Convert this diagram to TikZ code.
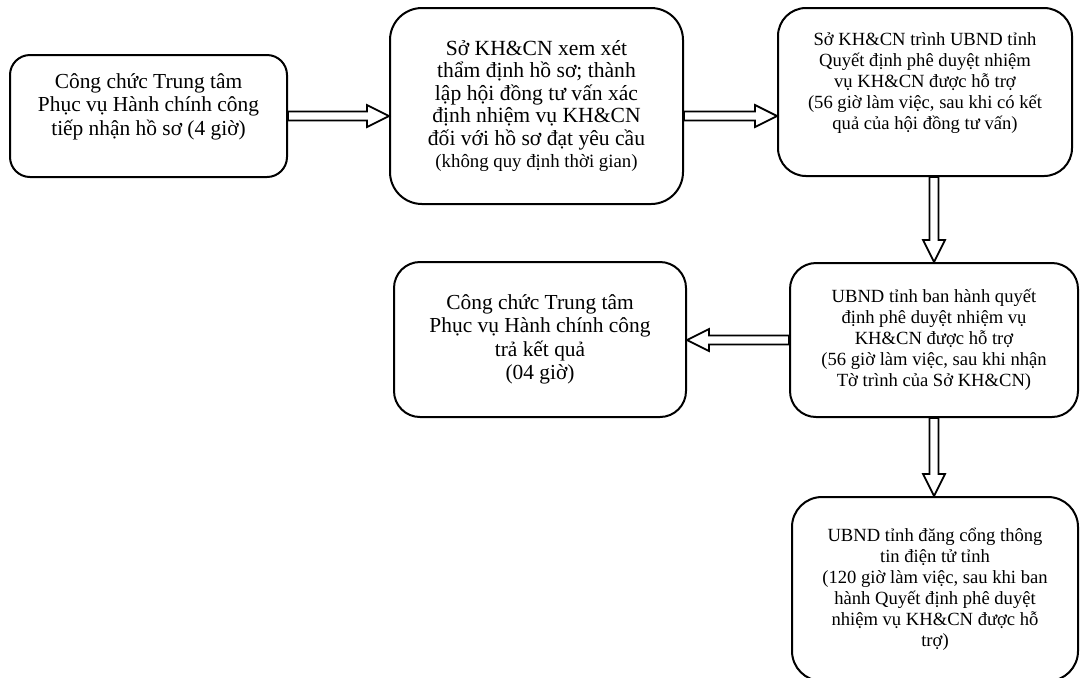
\documentclass[tikz,border=0pt]{standalone}
\usepackage{fontspec}
\setmainfont{Liberation Serif}
\usepackage{tikz}
\usetikzlibrary{calc, positioning}

\begin{document}
\begin{tikzpicture}[
    x=0.5pt, y=0.5pt,
    proc/.style={rectangle, draw, line width=1pt, align=center, inner sep=2pt,
                 font=\fontsize{10.7}{11.7}\selectfont},
    smalltext/.style={font=\fontsize{9.3}{10.5}\selectfont},
    blockarrow/.style={draw, fill=white, line width=0.9pt, line join=miter,
        to path={let \p1=($(\tikztotarget)-(\tikztostart)$),
                     \n1={veclen(\x1,\y1)}, \n2={atan2(\y1,\x1)}, \n3={\n1-11pt} in
            {[shift={(\tikztostart)}, rotate=\n2]
             (0pt,-2.25pt) -- (\n3,-2.25pt) -- (\n3,-5.5pt) -- (\n1,0pt)
             -- (\n3,5.5pt) -- (\n3,2.25pt) -- (0pt,2.25pt) -- cycle}}}
]
\useasboundingbox (0,0) rectangle (1080,-677);

% Step 1: reception
\node[proc, minimum width=138.5pt, minimum height=61pt, rounded corners=10pt] (receive) at (148.5,-116) {
    Công chức Trung tâm\\
    Phục vụ Hành chính công\\
    tiếp nhận hồ sơ (4 giờ)\\ \mbox{}
};

% Step 2: appraisal
\node[proc, minimum width=146.5pt, minimum height=98pt, rounded corners=16pt,
      font=\fontsize{10.8}{11.2}\selectfont] (appraise) at (536.5,-106) {
    Sở KH\&CN xem xét\\
    thẩm định hồ sơ; thành\\
    lập hội đồng tư vấn xác\\
    định nhiệm vụ KH\&CN\\
    đối với hồ sơ đạt yêu cầu\\
    {\fontsize{9.4}{11.2}\selectfont (không quy định thời gian)}
};

% Step 3: submission
\node[proc, smalltext, minimum width=147pt, minimum height=84pt, rounded corners=14pt] (submit) at (925,-92) {
    Sở KH\&CN trình UBND tỉnh\\
    Quyết định phê duyệt nhiệm\\
    vụ KH\&CN được hỗ trợ\\
    (56 giờ làm việc, sau khi có kết\\
    quả của hội đồng tư vấn)\\ \mbox{}
};

% Step 4: approval
\node[proc, smalltext, minimum width=144pt, minimum height=77pt, rounded corners=13pt] (approve) at (934,-340) {
    UBND tỉnh ban hành quyết\\
    định phê duyệt nhiệm vụ\\
    KH\&CN được hỗ trợ\\
    (56 giờ làm việc, sau khi nhận\\
    Tờ trình của Sở KH\&CN)
};

% Step 5: delivery
\node[proc, minimum width=146pt, minimum height=77.5pt, rounded corners=13pt] (deliver) at (540,-339.5) {
    Công chức Trung tâm\\
    Phục vụ Hành chính công\\
    trả kết quả\\
    (04 giờ)
};

% Step 6: publication (runs past the lower edge)
\node[proc, smalltext, minimum width=143pt, minimum height=92pt, rounded corners=15pt] (publish) at (935,-589) {
    UBND tỉnh đăng cổng thông\\
    tin điện tử tỉnh\\
    (120 giờ làm việc, sau khi ban\\
    hành Quyết định phê duyệt\\
    nhiệm vụ KH\&CN được hỗ\\
    trợ)
};

% Connectors
\draw[blockarrow] (receive.east) to (receive.east -| appraise.west);
\draw[blockarrow] (appraise.east |- receive.east) to (submit.west |- receive.east);
\draw[blockarrow] (submit.south -| approve.north) to (approve.north);
\draw[blockarrow] (approve.west) to (approve.west -| deliver.east);
\draw[blockarrow] (approve.south) to (approve.south |- publish.north);

\end{tikzpicture}
\end{document}
